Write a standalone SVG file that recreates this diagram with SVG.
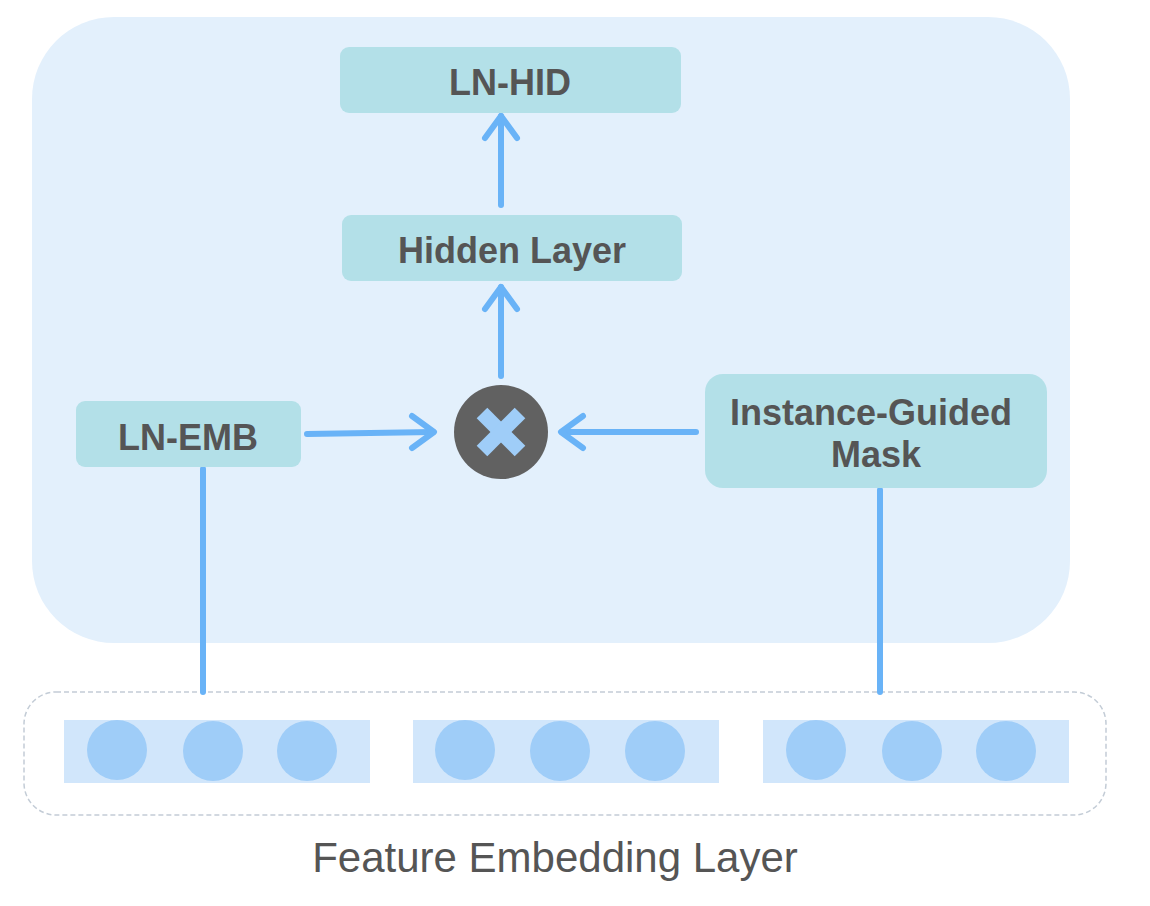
<svg xmlns="http://www.w3.org/2000/svg" width="1150" height="906" viewBox="0 0 1150 906">
<defs>
<style>
.node{fill:#b3e0e8;}
.lbl{font-family:"Liberation Sans",Arial,sans-serif;font-weight:bold;font-size:36px;fill:#555555;text-anchor:middle;}
.conn{stroke:#69b3f7;stroke-width:6;fill:none;stroke-linecap:round;stroke-linejoin:round;}
.emb{fill:#d1e6fb;}
.dot{fill:#9fcdf8;}
</style>
</defs>
<rect x="0" y="0" width="1150" height="906" fill="#ffffff"/>
<rect id="container" x="32" y="17" width="1038" height="626" rx="82" fill="#e3f0fc"/>
<g id="embedding-layer">
<rect x="24" y="692" width="1082" height="123" rx="32" fill="none" stroke="#c3ccd6" stroke-width="1.5" stroke-dasharray="5,3"/>
<rect class="emb" x="64" y="720" width="306" height="63"/>
<rect class="emb" x="413" y="720" width="306" height="63"/>
<rect class="emb" x="763" y="720" width="306" height="63"/>
<circle class="dot" cx="117" cy="750" r="30"/>
<circle class="dot" cx="213" cy="751" r="30"/>
<circle class="dot" cx="307" cy="751" r="30"/>
<circle class="dot" cx="465" cy="750" r="30"/>
<circle class="dot" cx="560" cy="751" r="30"/>
<circle class="dot" cx="655" cy="751" r="30"/>
<circle class="dot" cx="816" cy="750" r="30"/>
<circle class="dot" cx="912" cy="751" r="30"/>
<circle class="dot" cx="1006" cy="751" r="30"/>
<text x="555" y="872" font-family="'Liberation Sans',Arial,sans-serif" font-size="42" fill="#555555" text-anchor="middle">Feature Embedding Layer</text>
</g>
<g id="connectors">
<line class="conn" x1="203" y1="469" x2="203" y2="692" stroke-linecap="butt"/>
<line class="conn" x1="880" y1="490" x2="880" y2="692" stroke-linecap="butt"/>
<line class="conn" x1="501" y1="205" x2="501" y2="116"/>
<polyline class="conn" points="485,138 501,116 517,138"/>
<line class="conn" x1="501" y1="376" x2="501" y2="287"/>
<polyline class="conn" points="485,309 501,287 517,309"/>
<line class="conn" x1="307" y1="434" x2="433" y2="432"/>
<polyline class="conn" points="412,416 434,432 412,448"/>
<line class="conn" x1="696" y1="432" x2="562" y2="432"/>
<polyline class="conn" points="583,416 561,432 583,448"/>
</g>
<g id="ln-hid">
<rect class="node" x="340" y="47" width="341" height="66" rx="9"/>
<text class="lbl" x="510" y="95">LN-HID</text>
</g>
<g id="hidden-layer">
<rect class="node" x="342" y="215" width="340" height="66" rx="9"/>
<text class="lbl" x="512" y="263">Hidden Layer</text>
</g>
<g id="ln-emb">
<rect class="node" x="76" y="401" width="225" height="66" rx="9"/>
<text class="lbl" x="188" y="450">LN-EMB</text>
</g>
<g id="mask">
<rect class="node" x="705" y="374" width="342" height="114" rx="18"/>
<text class="lbl" x="871" y="425">Instance-Guided</text>
<text class="lbl" x="876" y="467">Mask</text>
</g>
<g id="multiply">
<circle cx="501" cy="432" r="47" fill="#616161"/>
<g stroke="#9fcdf8" stroke-width="15" stroke-linecap="butt">
<line x1="482" y1="413" x2="520" y2="451"/>
<line x1="520" y1="413" x2="482" y2="451"/>
</g>
</g>
</svg>
